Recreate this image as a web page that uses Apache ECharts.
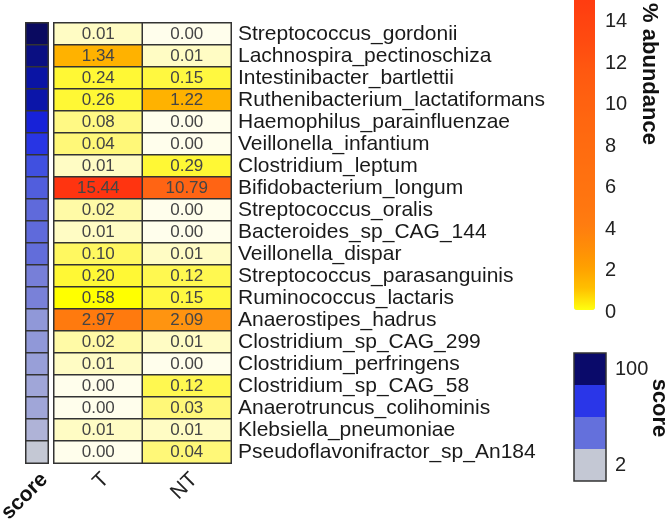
<!DOCTYPE html>
<html>
<head>
<meta charset="utf-8">
<script src="https://cdn.jsdelivr.net/npm/echarts@6/dist/echarts.min.js"></script>
<style>html,body{margin:0;padding:0;background:#fff}#c{width:666px;height:521px}</style>
</head>
<body>
<div id="c"></div>
<script>
const species = ['Streptococcus_gordonii','Lachnospira_pectinoschiza','Intestinibacter_bartlettii','Ruthenibacterium_lactatiformans','Haemophilus_parainfluenzae','Veillonella_infantium','Clostridium_leptum','Bifidobacterium_longum','Streptococcus_oralis','Bacteroides_sp_CAG_144','Veillonella_dispar','Streptococcus_parasanguinis','Ruminococcus_lactaris','Anaerostipes_hadrus','Clostridium_sp_CAG_299','Clostridium_perfringens','Clostridium_sp_CAG_58','Anaerotruncus_colihominis','Klebsiella_pneumoniae','Pseudoflavonifractor_sp_An184'];
const groups = ['T','NT'];
const tValues  = [0.01,1.34,0.24,0.26,0.08,0.04,0.01,15.44,0.02,0.01,0.10,0.20,0.58,2.97,0.02,0.01,0.00,0.00,0.01,0.00];
const ntValues = [0.00,0.01,0.15,1.22,0.00,0.00,0.29,10.79,0.00,0.00,0.01,0.12,0.15,2.09,0.01,0.00,0.12,0.03,0.01,0.04];
const scores   = [100,93,86,85,75,67,58,53,49,49,48,41,40,30,30,26,22,22,14,2];
const scoreCategory = ['score'];
const abundanceMin = 0, abundanceMax = 15.44, abundanceTickStep = 2;
const scoreMin = 2, scoreMax = 100;

const FONT = "'Liberation Sans', Arial, sans-serif";

const heatData = [];
species.forEach((s, i) => {
  heatData.push([0, i, tValues[i]]);
  heatData.push([1, i, ntValues[i]]);
});
const scoreData = scores.map((v, i) => [0, i, v]);

const chart = echarts.init(document.getElementById('c'), null, {renderer: 'canvas'});
chart.setOption({
  animation: false,
  backgroundColor: '#ffffff',
  textStyle: {fontFamily: FONT},
  grid: [
    {left: 26, top: 23, width: 22, height: 440, outerBoundsMode: 'none', containLabel: false},
    {left: 54, top: 23, width: 177, height: 440, outerBoundsMode: 'none', containLabel: false},
    {left: 574, top: -8, width: 21, height: 320, outerBoundsMode: 'none', containLabel: false},
    {left: 574, top: 353, width: 32, height: 128, outerBoundsMode: 'none', containLabel: false,
     show: true, borderColor: '#333', borderWidth: 1.5, backgroundColor: 'transparent', z: 10}
  ],
  xAxis: [
    {gridIndex: 0, type: 'category', data: scoreCategory, axisLine: {show: false}, axisTick: {show: false},
     axisLabel: {rotate: 45, fontSize: 21, fontWeight: 'bold', color: '#111', margin: 6, verticalAlign: 'top', fontFamily: FONT}},
    {gridIndex: 1, type: 'category', data: groups, axisLine: {show: false}, axisTick: {show: false},
     axisLabel: {rotate: 45, fontSize: 21, color: '#222', margin: 6, verticalAlign: 'top', fontFamily: FONT}},
    {gridIndex: 2, type: 'value', show: false},
    {gridIndex: 3, type: 'value', show: false}
  ],
  yAxis: [
    {gridIndex: 0, type: 'category', data: species, inverse: true, show: false},
    {gridIndex: 1, type: 'category', data: species, inverse: true, position: 'right',
     axisLine: {show: false}, axisTick: {show: false},
     axisLabel: {interval: 0, fontSize: 21, color: '#1a1a1a', margin: 7, fontFamily: FONT}},
    {gridIndex: 2, type: 'value', min: abundanceMin, max: abundanceMax, interval: abundanceTickStep, position: 'right',
     axisLine: {show: false}, axisTick: {show: false}, splitLine: {show: false},
     axisLabel: {fontSize: 20, color: '#222', margin: 10, fontFamily: FONT, showMaxLabel: false}},
    {gridIndex: 3, type: 'value', show: false}
  ],
  visualMap: [
    {type: 'continuous', show: false, seriesIndex: 0, dimension: 2, min: scoreMin, max: scoreMax,
     inRange: {color: ['#C4C8D4','#ACB0D8','#9098D8','#7078D8','#4050E0','#1A26E6','#0A14A4','#0A0A60']}},
    {type: 'piecewise', show: false, seriesIndex: 1, dimension: 2,
     pieces: [
       {lt: 0.005, color: '#FFFEEC'},
       {gte: 0.005, lt: 0.015, color: '#FFFCC4'},
       {gte: 0.015, lt: 0.025, color: '#FFFAA6'},
       {gte: 0.025, lt: 0.05, color: '#FFF878'},
       {gte: 0.05, lt: 0.09, color: '#FFF984'},
       {gte: 0.09, lt: 0.11, color: '#FFF860'},
       {gte: 0.11, lt: 0.13, color: '#FFF850'},
       {gte: 0.13, lt: 0.17, color: '#FFF840'},
       {gte: 0.17, lt: 0.32, color: '#FFF835'},
       {gte: 0.32, lt: 0.8, color: '#FFFF00'},
       {gte: 0.8, lt: 1.6, color: '#FFB200'},
       {gte: 1.6, lt: 2.5, color: '#FF9410'},
       {gte: 2.5, lt: 4, color: '#FF7A0E'},
       {gte: 4, lt: 13, color: '#FF6414'},
       {gte: 13, color: '#FF3410'}
     ]},
    {type: 'continuous', show: true, seriesIndex: 2, dimension: 2, min: abundanceMin, max: abundanceMax,
     left: 574, top: -10, itemWidth: 21, itemHeight: 320, padding: 0, calculable: false, text: null, hoverLink: false,
     inRange: {color: ['#FFFF10','#FFC000','#FFA000','#FF8C08','#FF7C10','#FF7610','#FF7210','#FF6E10','#FF6A10','#FF6610','#FF6010','#FF5A10','#FF5010','#FF4810','#FF4010','#FF3810']}},
    {type: 'piecewise', show: true, seriesIndex: 3, dimension: 2, orient: 'vertical', align: 'left',
     left: 574, top: 353, itemWidth: 32, itemHeight: 32, itemGap: 0, padding: 0, textGap: 9, itemSymbol: 'rect',
     selectedMode: false, hoverLink: false,
     textStyle: {fontSize: 20, color: '#222', fontFamily: FONT},
     pieces: [
       {min: 2, max: 26, color: '#C4C8D4', label: '2'},
       {min: 26, max: 51, color: '#6470DC', label: ' '},
       {min: 51, max: 76, color: '#2A36E8', label: ' '},
       {min: 76, max: 100, color: '#0A0A6A', label: '100'}
     ]}
  ],
  graphic: [
    {type: 'text', x: 649, y: 74, rotation: -Math.PI / 2,
     style: {text: '% abundance', fontSize: 22, fontWeight: 'bold', fill: '#111', fontFamily: FONT, align: 'center', verticalAlign: 'middle'}},
    {type: 'text', x: 659, y: 408, rotation: -Math.PI / 2,
     style: {text: 'score', fontSize: 22, fontWeight: 'bold', fill: '#111', fontFamily: FONT, align: 'center', verticalAlign: 'middle'}}
  ],
  series: [
    {type: 'heatmap', xAxisIndex: 0, yAxisIndex: 0, data: scoreData,
     itemStyle: {borderColor: '#333', borderWidth: 1.5}, label: {show: false}, emphasis: {disabled: true}},
    {type: 'heatmap', xAxisIndex: 1, yAxisIndex: 1, data: heatData,
     itemStyle: {borderColor: '#333', borderWidth: 1.5},
     label: {show: true, fontSize: 17, color: '#454545', fontFamily: FONT, formatter: p => p.value[2].toFixed(2)},
     emphasis: {disabled: true}},
    {type: 'heatmap', xAxisIndex: 2, yAxisIndex: 2, data: []},
    {type: 'heatmap', xAxisIndex: 3, yAxisIndex: 3, data: []}
  ]
});
</script>
</body>
</html>
